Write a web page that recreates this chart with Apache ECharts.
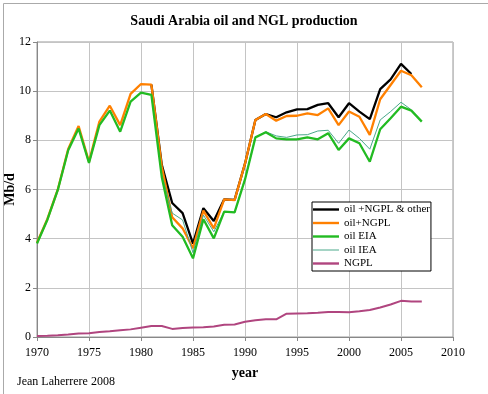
<!DOCTYPE html>
<html>
<head>
<meta charset="utf-8">
<script src="https://cdn.jsdelivr.net/npm/echarts@6/dist/echarts.min.js"></script>
<style>
html,body{margin:0;padding:0;background:#fff;}
#main{width:488px;height:394px;}
</style>
</head>
<body>
<div id="main"></div>
<script>
var years = [1970,1971,1972,1973,1974,1975,1976,1977,1978,1979,1980,1981,1982,1983,1984,1985,1986,1987,1988,1989,1990,1991,1992,1993,1994,1995,1996,1997,1998,1999,2000,2001,2002,2003,2004,2005,2006,2007];
var oilNgplOther = [null,null,null,null,null,null,null,null,null,null,null,10.27,7.0,5.45,5.04,3.8,5.24,4.72,5.6,5.58,7.05,8.83,9.07,8.94,9.14,9.26,9.27,9.44,9.51,8.94,9.51,9.17,8.86,10.08,10.48,11.11,10.7,null];
var oilNgpl = [3.84,4.8,6.0,7.65,8.58,7.13,8.76,9.41,8.62,9.89,10.29,10.27,6.93,4.87,4.42,3.61,5.14,4.42,5.6,5.57,7.05,8.83,9.07,8.80,8.99,9.0,9.1,9.03,9.30,8.62,9.17,8.96,8.22,9.67,10.25,10.83,10.65,10.16];
var oilEIA = [3.8,4.77,5.98,7.6,8.48,7.08,8.62,9.21,8.35,9.57,9.94,9.85,6.5,4.55,4.08,3.2,4.79,4.01,5.1,5.07,6.41,8.12,8.33,8.08,8.04,8.04,8.12,8.04,8.29,7.61,8.08,7.88,7.13,8.45,8.90,9.37,9.21,8.76];
var oilIEA = [null,null,null,null,null,null,null,null,null,null,null,9.85,6.6,5.04,4.76,3.43,4.96,4.28,5.1,5.07,6.41,8.12,8.35,8.18,8.12,8.22,8.23,8.38,8.41,7.88,8.42,8.08,7.64,8.83,9.17,9.55,9.24,null];
var ngpl = [0.04,0.05,0.07,0.1,0.14,0.15,0.2,0.23,0.27,0.31,0.38,0.45,0.45,0.33,0.37,0.39,0.4,0.43,0.5,0.51,0.62,0.68,0.72,0.72,0.95,0.96,0.97,0.99,1.02,1.02,1.01,1.05,1.1,1.2,1.32,1.47,1.44,1.44];
var names = ['oil +NGPL & other','oil+NGPL','oil EIA','oil IEA','NGPL'];

function pairs(arr){ return years.map(function(y,i){ return [y, arr[i]]; }); }

var serif = 'Liberation Serif, Times New Roman, serif';
function mk(name, arr, color, width){
  return {name:name, type:'line', data:pairs(arr), symbol:'none', showSymbol:false,
    lineStyle:{color:color, width:width}, itemStyle:{color:color}, connectNulls:false, animation:false};
}
var thick = 'path://M0,0H26V2.4H0Z';
var thin = 'path://M0,0H26V1H0Z';

var chart = echarts.init(document.getElementById('main'), null, {renderer:'canvas'});
chart.setOption({
  animation:false,
  backgroundColor:'#fff',
  title:{text:'Saudi Arabia oil and NGL production', left:'center', top:9,
    textStyle:{fontFamily:serif, fontSize:14, fontWeight:'bold', color:'#000'}},
  grid:{left:37, right:35, top:42, bottom:57, show:true, borderColor:'#999', borderWidth:1,
    containLabel:false, outerBoundsMode:'none'},
  legend:{data:[
      {name:names[0], icon:thick},
      {name:names[1], icon:thick},
      {name:names[2], icon:thick},
      {name:names[3], icon:thin},
      {name:names[4], icon:thick}
    ], orient:'vertical', left:312, top:202, padding:[2,1,2,1], itemWidth:26, itemHeight:12, itemGap:2.5,
    symbolKeepAspect:true,
    backgroundColor:'#fff', borderColor:'#000', borderWidth:1, borderRadius:0,
    textStyle:{fontFamily:serif, fontSize:11, color:'#000'}},
  xAxis:{type:'value', min:1970, max:2010, interval:5, name:'year', nameLocation:'middle', nameGap:29,
    nameTextStyle:{fontFamily:serif, fontSize:14, fontWeight:'bold', color:'#000'},
    axisLine:{show:true, onZero:false, lineStyle:{color:'#888'}},
    axisTick:{show:true, length:4, lineStyle:{color:'#888'}},
    axisLabel:{fontFamily:serif, fontSize:12, color:'#000', margin:10, formatter:function(v){return String(v);}},
    splitLine:{show:true, lineStyle:{color:'#c4c4c4', width:1}}},
  yAxis:{type:'value', min:0, max:12, interval:2, name:'Mb/d', nameLocation:'middle', nameGap:20, nameRotate:90,
    nameMoveOverlap:false,
    nameTextStyle:{fontFamily:serif, fontSize:14, fontWeight:'bold', color:'#000'},
    axisLine:{show:true, lineStyle:{color:'#888'}},
    axisTick:{show:true, length:4, lineStyle:{color:'#888'}},
    axisLabel:{fontFamily:serif, fontSize:12, color:'#000', margin:6},
    splitLine:{show:true, lineStyle:{color:'#c4c4c4', width:1}}},
  graphic:[
    {type:'rect', left:1, top:1, shape:{x:0,y:0,width:486,height:391}, style:{fill:null, stroke:'#aaa', lineWidth:1}, silent:true},
    {type:'text', left:17, top:376, style:{text:'Jean Laherrere 2008', font:'12px '+serif, fill:'#000'}}
  ],
  series:[
    mk(names[0], oilNgplOther, '#000000', 2.3),
    mk(names[1], oilNgpl, '#ff8000', 2.3),
    mk(names[3], oilIEA, '#4aa88a', 1),
    mk(names[2], oilEIA, '#22bb22', 2.3),
    mk(names[4], ngpl, '#b0457f', 2)
  ]
});
</script>
</body>
</html>
